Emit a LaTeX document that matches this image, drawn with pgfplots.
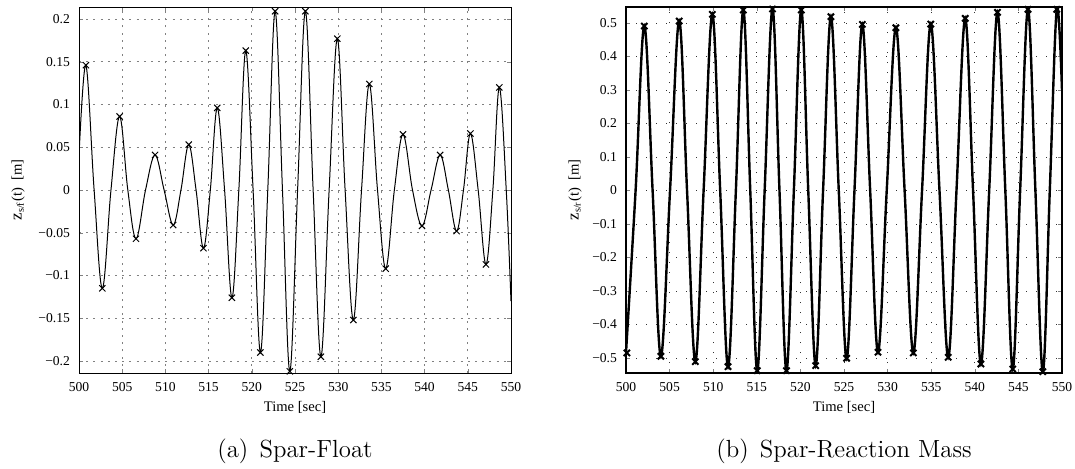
\documentclass[border=0pt]{standalone}
\usepackage{fontspec}
\newfontfamily\tnr{Liberation Serif}
\usepackage{pgfplots}
\pgfplotsset{compat=1.18}
\begin{document}
\begin{tikzpicture}
\path[use as bounding box] (0,0) rectangle (537.5pt,234pt);
\pgfplotsset{
 common/.style={
  scale only axis, height=183pt, anchor=south west,
  xmin=500, xmax=550, xtick={500,505,...,550},
  tick align=inside, xtick pos=both, ytick pos=both,
  major tick length=2pt,
  grid=major,
  /pgf/number format/assume math mode=true,
  tick label style={font=\tnr\fontsize{6.8}{7.5}\selectfont},
  label style={font=\tnr\fontsize{7.3}{8}\selectfont},
  xlabel={Time [sec]},
  xlabel style={at={(axis description cs:0.5,-0.093)},anchor=center},
  xticklabel style={yshift=-1pt},
  yticklabel style={xshift=-1pt},
 }
}
% ---------------- (a) Spar-Float ----------------
\begin{axis}[common, at={(39.5pt,47.5pt)}, width=216pt,
  ymin=-0.214, ymax=0.214,
  ytick={-0.2,-0.15,-0.1,-0.05,0,0.05,0.1,0.15,0.2},
  yticklabels={−0.2,−0.15,−0.1,−0.05,0,0.05,0.1,0.15,0.2},
  axis line style={line width=0.5pt},
  major grid style={gray, line width=0.4pt, dash pattern=on 1pt off 2.6pt},
  ylabel={{\fontsize{8.5}{9}\selectfont z}\textsubscript{s/f}(t)\ \ [m]},
  ylabel style={at={(axis description cs:-0.141,0.5)},anchor=center},
]
\addplot[black, line width=0.5pt, smooth, tension=0.6] coordinates {
(500.0,0.040) (500.8,0.146) (501.75,0) (502.7,-0.115) (503.7,0) (504.7,0.086)
(505.65,0) (506.6,-0.057) (507.7,0) (508.8,0.041) (509.85,0) (510.9,-0.041)
(511.8,0) (512.7,0.053) (513.55,0) (514.4,-0.068) (515.2,0) (516.0,0.096)
(516.85,0) (517.7,-0.126) (518.5,0) (519.3,0.163) (520.15,0) (521.0,-0.190)
(521.85,0) (522.7,0.209) (523.55,0) (524.4,-0.212) (525.3,0) (526.2,0.209)
(527.1,0) (528.0,-0.195) (528.95,0) (529.9,0.177) (530.8,0) (531.75,-0.152)
(532.7,0) (533.6,0.124) (534.55,0) (535.5,-0.092) (536.5,0) (537.5,0.065)
(538.6,0) (539.7,-0.042) (540.75,0) (541.8,0.041) (542.75,0) (543.7,-0.048)
(544.5,0) (545.3,0.066) (546.2,0) (547.1,-0.087) (547.9,0) (548.65,0.120)
(549.45,0) (550.0,-0.13)
};
\addplot[black, only marks, mark=x, mark size=2.2pt, line width=0.5pt] coordinates {
(500.8,0.146) (502.7,-0.115) (504.7,0.086) (506.6,-0.057) (508.8,0.041) (510.9,-0.041)
(512.7,0.053) (514.4,-0.068) (516.0,0.096) (517.7,-0.126) (519.3,0.163) (521.0,-0.190)
(522.7,0.209) (524.4,-0.212) (526.2,0.209) (528.0,-0.195) (529.9,0.177) (531.75,-0.152)
(533.6,0.124) (535.5,-0.092) (537.5,0.065) (539.7,-0.042) (541.8,0.041) (543.7,-0.048)
(545.3,0.066) (547.1,-0.087) (548.65,0.120)
};
\end{axis}
% ---------------- (b) Spar-Reaction Mass ----------------
\begin{axis}[common, at={(313pt,47.5pt)}, width=218pt,
  ymin=-0.545, ymax=0.548,
  ytick={-0.5,-0.4,-0.3,-0.2,-0.1,0,0.1,0.2,0.3,0.4,0.5},
  yticklabels={−0.5,−0.4,−0.3,−0.2,−0.1,0,0.1,0.2,0.3,0.4,0.5},
  axis line style={line width=0.7pt},
  major grid style={black!80, line width=0.4pt, dash pattern=on 0.6pt off 4.4pt},
  ylabel={{\fontsize{8.5}{9}\selectfont z}\textsubscript{s/r}(t)\ \ [m]},
  ylabel style={at={(axis description cs:-0.117,0.5)},anchor=center},
]
\addplot[black, line width=1.2pt, smooth, tension=0.6] coordinates {
(500.0,-0.484) (501.1,0) (502.1,0.491) (503.05,0) (504.0,-0.495) (505.05,0)
(506.1,0.506) (507.0,0) (507.95,-0.511) (508.9,0) (509.9,0.526) (510.8,0)
(511.7,-0.526) (512.6,0) (513.45,0.539) (514.25,0) (515.05,-0.538) (515.9,0)
(516.8,0.542) (517.6,0) (518.4,-0.538) (519.25,0) (520.1,0.539) (520.9,0)
(521.75,-0.523) (522.6,0) (523.5,0.519) (524.4,0) (525.3,-0.501) (526.2,0)
(527.1,0.496) (528.0,0) (528.9,-0.483) (529.9,0) (530.95,0.486) (531.95,0)
(532.95,-0.485) (533.95,0) (534.95,0.497) (535.95,0) (536.95,-0.498) (537.9,0)
(538.9,0.514) (539.8,0) (540.7,-0.518) (541.65,0) (542.6,0.532) (543.5,0)
(544.35,-0.533) (545.2,0) (546.1,0.541) (546.95,0) (547.8,-0.541) (548.6,0)
(549.4,0.541) (550.0,0.30)
};
\addplot[black, only marks, mark=x, mark size=2.2pt, line width=1pt] coordinates {
(500.1,-0.485) (502.1,0.491) (504.0,-0.495) (506.1,0.506) (507.95,-0.511) (509.9,0.526)
(511.7,-0.526) (513.45,0.539) (515.05,-0.538) (516.8,0.542) (518.4,-0.538) (520.1,0.539)
(521.75,-0.523) (523.5,0.519) (525.3,-0.501) (527.1,0.496) (528.9,-0.483) (530.95,0.486)
(532.95,-0.485) (534.95,0.497) (536.95,-0.498) (538.9,0.514) (540.7,-0.518) (542.6,0.532)
(544.35,-0.533) (546.1,0.541) (547.8,-0.541) (549.4,0.541)
};
\end{axis}
\node[anchor=base, font=\fontsize{12.4}{14}\selectfont] at (147.5pt,5.5pt) {(a)\hspace{0.45em}Spar-Float};
\node[anchor=base, font=\fontsize{12.4}{14}\selectfont] at (422pt,5.5pt) {(b)\hspace{0.45em}Spar-Reaction Mass};
\end{tikzpicture}
\end{document}
